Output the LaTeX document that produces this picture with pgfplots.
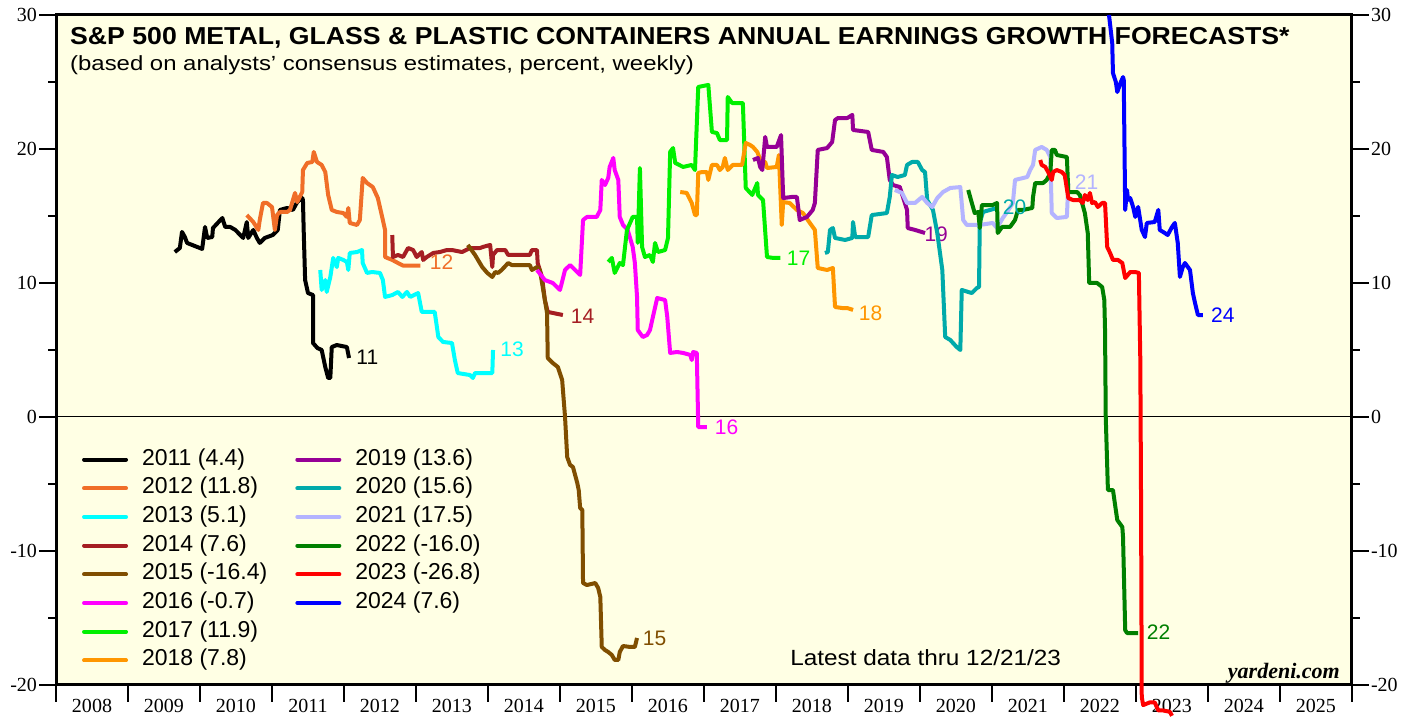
\documentclass[border=0pt]{standalone}
\usepackage{fontspec}
\setmainfont{Liberation Sans}
\newfontfamily\serifft{Liberation Serif}
\usepackage{pgfplots}
\pgfplotsset{compat=1.18}
\definecolor{c11}{RGB}{0,0,0}
\definecolor{c12}{RGB}{240,110,40}
\definecolor{c13}{RGB}{0,255,255}
\definecolor{c14}{RGB}{165,30,35}
\definecolor{c15}{RGB}{128,78,0}
\definecolor{c16}{RGB}{255,0,255}
\definecolor{c17}{RGB}{0,240,0}
\definecolor{c18}{RGB}{255,150,0}
\definecolor{c19}{RGB}{150,0,150}
\definecolor{c20}{RGB}{0,170,170}
\definecolor{c21}{RGB}{180,180,255}
\definecolor{c22}{RGB}{0,128,0}
\definecolor{c23}{RGB}{255,0,0}
\definecolor{c24}{RGB}{0,0,255}
\definecolor{bgc}{RGB}{255,255,228}
\begin{document}
\begin{tikzpicture}
\useasboundingbox (0pt,0pt) rectangle (1416pt,719pt);
\begin{axis}[
  scale only axis, width=1296pt, height=670pt,
  at={(56pt,34pt)}, anchor=south west,
  xmin=2008, xmax=2026, ymin=-20, ymax=30,
  clip=false,
  axis background/.style={fill=bgc},
  axis line style={line width=3pt, line cap=rect},
  tick align=outside,
  xtick={2008,2009,...,2026}, xticklabels=\empty,
  xtick pos=bottom, ytick pos=left,
  ytick={-20,-10,0,10,20,30}, yticklabels={-20,-10,0,10,20,30},
  minor ytick={-15,-5,5,15,25},
  major tick length=17pt, minor tick length=8pt,
  major tick style={line width=2pt, black},
  minor tick style={line width=2pt, black},
  tick label style={font=\serifft\fontsize{20}{20}\selectfont},
  yticklabel style={inner sep=2pt},
  extra x ticks={2008.5,2009.5,2010.5,2011.5,2012.5,2013.5,2014.5,2015.5,2016.5,2017.5,2018.5,2019.5,2020.5,2021.5,2022.5,2023.5,2024.5,2025.5},
  extra x tick labels={2008,2009,2010,2011,2012,2013,2014,2015,2016,2017,2018,2019,2020,2021,2022,2023,2024,2025},
  extra x tick style={major tick length=0pt, xticklabel style={inner sep=0pt, yshift=-14pt}},
  legend columns=2,
  legend image code/.code={\draw[#1, line width=4pt, line cap=round] (2pt,0pt) -- (44pt,0pt);},
  legend style={at={(rel axis cs:0.0201,0.3522)}, anchor=north west, draw=none, fill=none,
     inner sep=0pt, outer sep=0pt, font=\fontsize{23}{23}\selectfont,
     nodes={inner sep=0pt, text height=16pt, text depth=5pt},
     row sep=7.7pt, cells={anchor=west},
     /tikz/every odd column/.append style={column sep=14pt},
     /tikz/every even column/.append style={column sep=28pt}},
  every axis plot/.append style={line width=4pt, line join=round},
]
\addplot[black, line width=1pt, forget plot] coordinates {(2008,0) (2026,0)};
% 2011
\addplot[c11, forget plot] coordinates {
(2009.65,12.31) (2009.72,12.61) (2009.75,13.81) (2009.79,13.43) (2009.82,12.99) (2009.89,12.84) (2009.96,12.69) (2010.03,12.54) (2010.07,14.18) (2010.10,13.36) (2010.17,13.43) (2010.18,14.10) (2010.31,14.85) (2010.35,14.18) (2010.42,14.18) (2010.49,13.96) (2010.56,13.58) (2010.60,13.36) (2010.65,14.55) (2010.67,13.36) (2010.74,13.96) (2010.79,13.36) (2010.83,12.99) (2010.90,13.36) (2011.01,13.58) (2011.08,13.96) (2011.11,15.45) (2011.21,15.60) (2011.29,15.45) (2011.35,16.04) (2011.42,16.34) (2011.43,16.19) (2011.44,13.96) (2011.46,10.22) (2011.50,9.25) (2011.57,9.10) (2011.57,5.52) (2011.63,5.15) (2011.69,5.00) (2011.74,3.73) (2011.78,2.91) (2011.81,2.91) (2011.83,5.22) (2011.90,5.37) (2012.04,5.22) (2012.07,4.40)};
% 2012
\addplot[c12, forget plot] coordinates {
(2010.65,15.07) (2010.74,14.55) (2010.81,13.96) (2010.83,14.70) (2010.875,15.97) (2010.93,15.97) (2011.0,15.67) (2011.04,13.96) (2011.07,15.07) (2011.11,15.30) (2011.21,15.30) (2011.25,15.45) (2011.32,16.72) (2011.35,16.04) (2011.42,16.79) (2011.43,18.43) (2011.49,18.96) (2011.56,19.03) (2011.58,19.78) (2011.625,19.03) (2011.69,18.81) (2011.74,18.28) (2011.78,16.57) (2011.83,15.45) (2011.90,15.30) (2011.99,15.22) (2012.04,14.93) (2012.06,15.60) (2012.08,14.48) (2012.18,14.33) (2012.22,14.70) (2012.26,17.84) (2012.32,17.46) (2012.40,17.16) (2012.47,16.34) (2012.53,14.93) (2012.57,13.96) (2012.57,11.94) (2012.67,11.72) (2012.75,11.49) (2012.82,11.30) (2013.06,11.30)};
% 2013
\addplot[c13, forget plot] coordinates {
(2011.67,10.97) (2011.69,9.48) (2011.74,10.22) (2011.76,9.33) (2011.81,10.45) (2011.85,11.87) (2011.90,11.19) (2011.92,11.87) (2011.99,11.72) (2012.04,11.57) (2012.06,10.97) (2012.08,12.24) (2012.18,12.31) (2012.25,12.46) (2012.26,11.49) (2012.32,10.75) (2012.39,10.82) (2012.50,10.75) (2012.54,10.22) (2012.57,8.96) (2012.67,9.10) (2012.75,9.33) (2012.81,8.96) (2012.875,9.33) (2012.92,8.96) (2013.03,9.25) (2013.08,7.84) (2013.26,7.84) (2013.31,5.97) (2013.375,5.60) (2013.5,5.52) (2013.54,4.25) (2013.58,3.28) (2013.75,3.13) (2013.79,2.91) (2013.82,3.28) (2014.06,3.28) (2014.07,5.0)};
% 2014
\addplot[c14, forget plot] coordinates {
(2012.67,13.58) (2012.68,11.94) (2012.75,12.09) (2012.82,11.94) (2012.89,12.61) (2012.96,12.46) (2013.01,11.94) (2013.08,12.31) (2013.10,11.72) (2013.15,11.94) (2013.24,12.24) (2013.33,12.31) (2013.43,12.46) (2013.5,12.46) (2013.64,12.31) (2013.75,12.61) (2013.89,12.61) (2013.93,12.69) (2014.03,12.84) (2014.06,11.19) (2014.07,12.09) (2014.125,12.46) (2014.24,12.46) (2014.28,12.09) (2014.35,12.09) (2014.58,12.09) (2014.61,12.46) (2014.68,12.46) (2014.69,11.49) (2014.75,10.45) (2014.79,8.73) (2014.83,7.84) (2015.04,7.61)};
% 2015
\addplot[c15, forget plot] coordinates {
(2013.72,12.84) (2013.82,12.09) (2013.92,11.19) (2013.99,10.75) (2014.06,10.45) (2014.10,10.82) (2014.14,10.75) (2014.19,10.97) (2014.28,11.49) (2014.33,11.34) (2014.58,11.34) (2014.61,10.97) (2014.68,11.19) (2014.72,10.97) (2014.76,9.70) (2014.82,7.76) (2014.83,4.40) (2014.90,4.03) (2014.97,3.73) (2015.03,2.76) (2015.07,0) (2015.10,-2.99) (2015.14,-3.58) (2015.18,-3.73) (2015.24,-4.93) (2015.26,-5.45) (2015.28,-6.79) (2015.31,-6.94) (2015.32,-12.39) (2015.375,-12.54) (2015.49,-12.39) (2015.53,-12.76) (2015.56,-13.43) (2015.58,-17.16) (2015.625,-17.39) (2015.67,-17.54) (2015.72,-17.76) (2015.76,-18.13) (2015.81,-18.13) (2015.83,-17.54) (2015.875,-17.09) (2015.97,-17.16) (2016.04,-17.16) (2016.07,-16.49)};
% 2016
\addplot[c16, forget plot] coordinates {
(2014.68,10.97) (2014.79,10.22) (2014.90,10.0) (2015.0,9.48) (2015.07,10.97) (2015.14,11.34) (2015.28,10.60) (2015.32,14.70) (2015.375,14.93) (2015.51,14.93) (2015.56,15.45) (2015.58,17.69) (2015.625,17.31) (2015.67,17.84) (2015.69,18.66) (2015.74,19.33) (2015.76,18.43) (2015.81,17.69) (2015.83,14.93) (2015.875,14.33) (2015.94,13.96) (2016.01,12.69) (2016.04,11.49) (2016.07,8.96) (2016.08,6.49) (2016.15,5.97) (2016.21,6.12) (2016.25,6.49) (2016.29,7.46) (2016.35,8.88) (2016.46,8.73) (2016.49,7.46) (2016.53,4.78) (2016.625,4.85) (2016.71,4.78) (2016.81,4.63) (2016.83,4.25) (2016.85,4.85) (2016.90,4.78) (2016.92,-0.75) (2017.04,-0.75)};
% 2017
\addplot[c17, forget plot] coordinates {
(2015.67,11.57) (2015.72,11.87) (2015.76,10.75) (2015.83,11.49) (2015.875,11.34) (2015.93,13.96) (2016.01,14.93) (2016.07,14.93) (2016.08,12.99) (2016.11,18.58) (2016.14,12.69) (2016.18,11.94) (2016.25,12.09) (2016.29,11.57) (2016.32,12.99) (2016.36,12.31) (2016.46,12.46) (2016.50,13.36) (2016.53,19.78) (2016.57,20.07) (2016.60,18.96) (2016.71,18.66) (2016.83,18.81) (2016.875,18.43) (2016.92,24.63) (2017.06,24.78) (2017.11,21.27) (2017.18,21.19) (2017.22,20.67) (2017.32,20.67) (2017.33,23.88) (2017.39,23.43) (2017.54,23.43) (2017.58,17.09) (2017.67,16.57) (2017.74,17.46) (2017.75,16.57) (2017.82,16.19) (2017.875,11.94) (2017.96,11.87) (2018.06,11.87)};
% 2018
\addplot[c18, forget plot] coordinates {
(2016.67,16.79) (2016.76,16.72) (2016.83,15.97) (2016.875,15.07) (2016.90,15.07) (2016.92,18.21) (2016.97,18.28) (2017.04,18.28) (2017.06,17.69) (2017.11,18.81) (2017.18,18.81) (2017.22,18.43) (2017.26,18.66) (2017.29,19.33) (2017.33,18.43) (2017.40,18.81) (2017.53,18.81) (2017.54,19.18) (2017.58,20.45) (2017.64,20.30) (2017.68,20.15) (2017.74,19.78) (2017.81,18.81) (2017.85,19.03) (2017.875,18.58) (2018.01,18.66) (2018.04,19.55) (2018.08,14.33) (2018.10,16.04) (2018.19,15.97) (2018.29,15.45) (2018.375,15.22) (2018.47,14.48) (2018.54,13.96) (2018.58,11.12) (2018.71,10.97) (2018.79,11.12) (2018.82,8.21) (2018.92,8.13) (2018.99,8.13) (2019.07,7.99)};
% 2019
\addplot[c19, forget plot] coordinates {
(2017.68,19.18) (2017.75,19.33) (2017.78,18.66) (2017.81,18.43) (2017.85,20.90) (2017.875,20.15) (2018.01,20.15) (2018.07,21.04) (2018.10,16.34) (2018.22,16.42) (2018.29,16.42) (2018.33,14.70) (2018.43,14.93) (2018.51,15.45) (2018.54,15.97) (2018.58,19.93) (2018.71,20.07) (2018.78,20.52) (2018.82,22.16) (2018.86,22.31) (2018.99,22.31) (2019.06,22.54) (2019.07,21.42) (2019.28,21.27) (2019.33,19.93) (2019.49,19.78) (2019.54,19.40) (2019.58,17.69) (2019.625,17.31) (2019.72,17.16) (2019.82,15.45) (2019.83,14.10) (2019.93,13.96) (2020.07,13.73)};
\node[c19, anchor=west, inner sep=0pt, font=\fontsize{21}{21}\selectfont] at (axis cs:2020.06,13.66) {19};
% 2020
\addplot[c20, forget plot] coordinates {
(2018.68,12.24) (2018.72,12.31) (2018.75,13.96) (2018.79,14.10) (2018.82,13.36) (2018.96,13.21) (2019.06,13.36) (2019.07,14.55) (2019.10,13.43) (2019.28,13.43) (2019.33,15.07) (2019.54,15.22) (2019.58,16.42) (2019.61,18.06) (2019.69,17.91) (2019.79,18.06) (2019.82,18.81) (2019.89,19.03) (2019.97,19.03) (2020.03,18.43) (2020.07,18.28) (2020.10,16.19) (2020.18,15.45) (2020.24,13.73) (2020.31,10.97) (2020.35,5.97) (2020.42,5.75) (2020.51,5.22) (2020.56,5.0) (2020.58,9.48) (2020.67,9.33) (2020.72,9.25) (2020.79,9.63) (2020.82,9.70) (2020.83,14.48) (2020.875,15.30) (2021.07,15.60)};
% 2021
\addplot[c21, forget plot] coordinates {
(2019.65,16.94) (2019.75,16.72) (2019.82,15.97) (2019.93,15.97) (2020.03,16.42) (2020.10,15.97) (2020.17,15.67) (2020.24,16.34) (2020.32,16.79) (2020.42,17.09) (2020.56,17.16) (2020.60,14.70) (2020.65,14.33) (2020.83,14.33) (2021.01,14.48) (2021.07,14.10) (2021.15,14.85) (2021.21,15.30) (2021.29,15.97) (2021.32,17.69) (2021.49,17.91) (2021.53,18.43) (2021.57,18.81) (2021.60,19.93) (2021.69,20.15) (2021.76,19.93) (2021.81,19.40) (2021.83,15.22) (2021.90,14.85) (2022.04,14.93) (2022.06,17.46) (2022.08,17.46)};
% 2022
\addplot[c22, forget plot] coordinates {
(2020.67,16.94) (2020.72,15.97) (2020.76,15.22) (2020.81,15.30) (2020.83,14.10) (2020.86,15.82) (2021.01,15.82) (2021.07,15.97) (2021.08,13.73) (2021.14,14.18) (2021.25,14.18) (2021.32,14.70) (2021.36,15.45) (2021.43,15.45) (2021.56,15.60) (2021.57,16.42) (2021.60,17.46) (2021.71,17.46) (2021.76,17.69) (2021.81,18.21) (2021.83,19.93) (2021.875,19.93) (2021.90,19.55) (2022.04,19.40) (2022.06,16.79) (2022.18,16.79) (2022.22,16.57) (2022.29,15.22) (2022.33,13.73) (2022.35,10.0) (2022.46,10.0) (2022.53,9.70) (2022.56,8.73) (2022.57,6.49) (2022.58,0) (2022.61,-5.45) (2022.68,-5.45) (2022.74,-7.69) (2022.81,-8.21) (2022.82,-8.96) (2022.85,-15.90) (2022.875,-16.12) (2023.03,-16.12)};
% 2023
\addplot[c23, forget plot] coordinates {
(2021.67,19.18) (2021.69,18.81) (2021.74,18.66) (2021.78,18.28) (2021.83,17.69) (2021.85,18.28) (2021.90,18.43) (2021.97,18.28) (2022.01,18.06) (2022.06,16.34) (2022.125,16.19) (2022.22,16.19) (2022.26,15.97) (2022.29,16.57) (2022.33,16.19) (2022.36,16.72) (2022.39,15.97) (2022.43,16.04) (2022.47,15.67) (2022.53,15.97) (2022.57,15.97) (2022.60,12.69) (2022.64,12.24) (2022.68,11.72) (2022.75,11.72) (2022.81,11.49) (2022.85,10.37) (2022.92,10.82) (2022.99,10.82) (2023.04,10.75) (2023.06,4.25) (2023.07,-5.97) (2023.08,-20.9) (2023.10,-21.5) (2023.19,-21.3) (2023.26,-21.3) (2023.31,-21.9) (2023.375,-21.9) (2023.47,-22.0) (2023.50,-22.3)};
% 2024
\addplot[c24, forget plot] coordinates {
(2022.625,30.0) (2022.67,27.9) (2022.68,25.67) (2022.72,25.0) (2022.74,24.25) (2022.76,24.55) (2022.79,25.0) (2022.82,25.37) (2022.83,25.15) (2022.85,15.45) (2022.875,16.94) (2022.89,16.19) (2022.92,16.34) (2022.96,15.67) (2022.99,14.93) (2023.03,15.67) (2023.08,13.96) (2023.125,13.43) (2023.15,14.48) (2023.26,14.55) (2023.31,15.45) (2023.33,13.96) (2023.40,13.73) (2023.44,13.58) (2023.50,14.18) (2023.54,14.48) (2023.58,12.99) (2023.61,10.45) (2023.65,11.19) (2023.68,11.49) (2023.75,10.97) (2023.79,9.25) (2023.82,8.51) (2023.86,7.61) (2023.93,7.61)};
% legend
\addlegendimage{c11}\addlegendentry{2011 (4.4)}
\addlegendimage{c19}\addlegendentry{2019 (13.6)}
\addlegendimage{c12}\addlegendentry{2012 (11.8)}
\addlegendimage{c20}\addlegendentry{2020 (15.6)}
\addlegendimage{c13}\addlegendentry{2013 (5.1)}
\addlegendimage{c21}\addlegendentry{2021 (17.5)}
\addlegendimage{c14}\addlegendentry{2014 (7.6)}
\addlegendimage{c22}\addlegendentry{2022 (-16.0)}
\addlegendimage{c15}\addlegendentry{2015 (-16.4)}
\addlegendimage{c23}\addlegendentry{2023 (-26.8)}
\addlegendimage{c16}\addlegendentry{2016 (-0.7)}
\addlegendimage{c24}\addlegendentry{2024 (7.6)}
\addlegendimage{c17}\addlegendentry{2017 (11.9)}
\addlegendimage{empty legend}\addlegendentry{}
\addlegendimage{c18}\addlegendentry{2018 (7.8)}
% end labels
\begin{scope}[every node/.style={anchor=west, inner sep=0pt, font=\fontsize{21}{21}\selectfont}]
\node[c11] at (axis cs:2012.17,4.48) {11};
\node[c12] at (axis cs:2013.19,11.57) {12};
\node[c13] at (axis cs:2014.17,5.07) {13};
\node[c14] at (axis cs:2015.15,7.54) {14};
\node[c15] at (axis cs:2016.15,-16.49) {15};
\node[c16] at (axis cs:2017.15,-0.75) {16};
\node[c17] at (axis cs:2018.15,11.87) {17};
\node[c18] at (axis cs:2019.15,7.76) {18};
\node[c20] at (axis cs:2021.15,15.67) {20};
\node[c21] at (axis cs:2022.15,17.54) {21};
\node[c22] at (axis cs:2023.15,-16.04) {22};
\node[c24] at (axis cs:2024.04,7.61) {24};
\end{scope}
\node[anchor=base west, inner sep=0pt, font=\bfseries\fontsize{24.5}{24.5}\selectfont] at (rel axis cs:0.0108,0.9567) {\scalebox{1.088}[1]{S\&P 500 METAL, GLASS \& PLASTIC CONTAINERS ANNUAL EARNINGS GROWTH FORECASTS*}};
\node[anchor=base west, inner sep=0pt, font=\fontsize{20.5}{20.5}\selectfont] at (rel axis cs:0.0108,0.9177) {\scalebox{1.167}[1]{(based on analysts’ consensus estimates, percent, weekly)}};
\node[anchor=base west, inner sep=0pt, font=\fontsize{22}{22}\selectfont] at (rel axis cs:0.5664,0.0284) {\scalebox{1.107}[1]{Latest data thru 12/21/23}};
\node[anchor=base east, inner sep=0pt, font=\serifft\bfseries\itshape\fontsize{22}{22}\selectfont] at (rel axis cs:0.9907,0.0104) {yardeni.com};
\end{axis}
\begin{axis}[
  scale only axis, width=1296pt, height=670pt,
  at={(56pt,34pt)}, anchor=south west,
  xmin=2008, xmax=2026, ymin=-20, ymax=30,
  hide x axis,
  axis line style={line width=3pt, line cap=rect},
  tick align=outside,
  ytick pos=right, yticklabel pos=right,
  ytick={-20,-10,0,10,20,30}, yticklabels={-20,-10,0,10,20,30},
  minor ytick={-15,-5,5,15,25},
  major tick length=17pt, minor tick length=8pt,
  major tick style={line width=2pt, black},
  minor tick style={line width=2pt, black},
  tick label style={font=\serifft\fontsize{20}{20}\selectfont},
  yticklabel style={inner sep=2pt},
]
\end{axis}
\end{tikzpicture}
\end{document}
